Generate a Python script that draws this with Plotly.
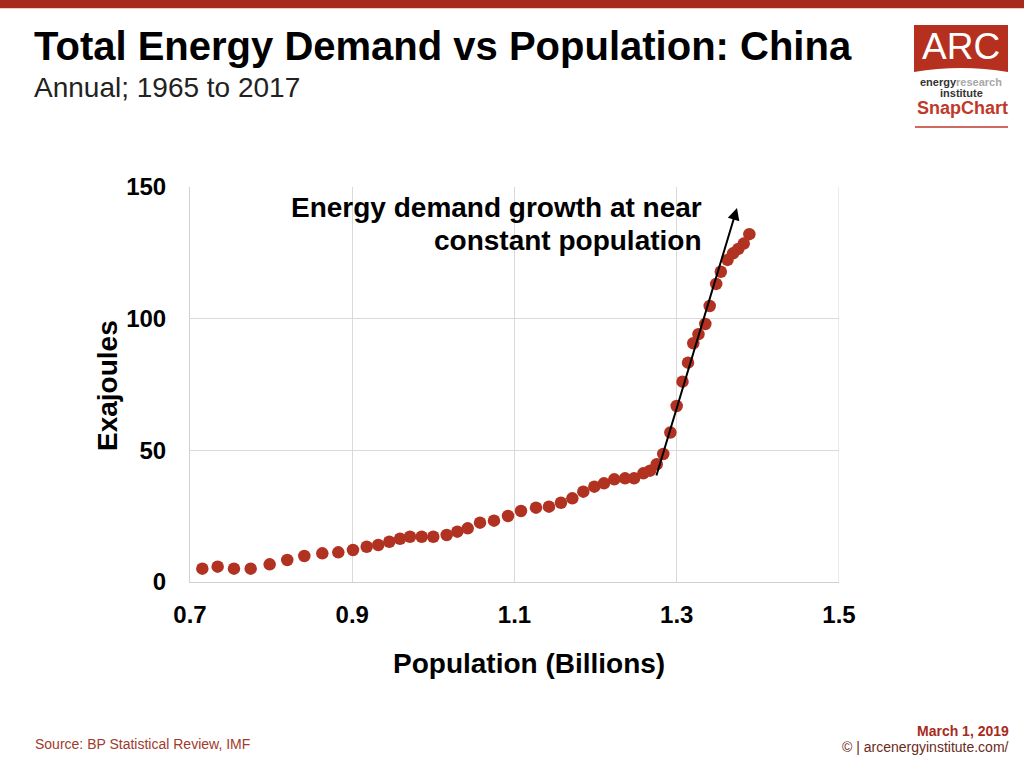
import plotly.graph_objects as go

population = [0.7152, 0.7341, 0.7542, 0.7748, 0.7982, 0.8199, 0.8409, 0.8631, 0.8828, 0.9009,
              0.9178, 0.9321, 0.9457, 0.9589, 0.9712, 0.9856, 0.9999, 1.0164, 1.0295, 1.0423,
              1.0575, 1.0747, 1.0920, 1.1080, 1.1265, 1.1425, 1.1573, 1.1713, 1.1848, 1.1984,
              1.2103, 1.2230, 1.2363, 1.2474, 1.2588, 1.2671, 1.2753, 1.2834, 1.2921, 1.2999,
              1.3071, 1.3139, 1.3204, 1.3268, 1.3352, 1.3406, 1.3486, 1.3543, 1.3626, 1.3694,
              1.3759, 1.3826, 1.3895]
exajoules = [5.05, 5.81, 5.05, 5.05, 6.72, 8.35, 9.87, 10.9, 11.28, 12.15,
             13.4, 14.05, 15.3, 16.44, 17.2, 17.2, 17.2, 17.85, 19.1, 20.39,
             22.52, 23.28, 25.06, 26.96, 28.22, 28.6, 30.11, 31.78, 34.29, 36.19,
             37.48, 39.0, 39.38, 39.38, 41.28, 42.27, 44.7, 48.61, 56.77, 66.84,
             76.07, 83.28, 90.65, 94.1, 97.97, 104.8, 113.2, 117.8, 122.3, 124.8,
             126.5, 128.5, 132.1]

x_ticks = [0.7, 0.9, 1.1, 1.3, 1.5]
x_tick_labels = ["0.7", "0.9", "1.1", "1.3", "1.5"]
y_ticks = [0, 50, 100, 150]
y_tick_labels = ["0", "50", "100", "150"]

arrow_start = (1.2744, 39.9)
arrow_end = (1.3743, 142.0)

RED = "#A62B1C"
DOT = "#B23222"
FONT = "Liberation Sans, Arial, sans-serif"

fig = go.Figure()
fig.add_trace(go.Scatter(
    x=population, y=exajoules, mode="markers",
    marker=dict(size=12.5, color=DOT, line=dict(width=0)),
    hoverinfo="x+y", showlegend=False,
))

fig.update_layout(
    width=1024, height=768,
    margin=dict(l=190, r=185, t=187, b=186, pad=0),
    paper_bgcolor="white", plot_bgcolor="white",
    font=dict(family=FONT, color="black"),
    xaxis=dict(range=[0.7, 1.5], tickvals=x_ticks, ticktext=x_tick_labels,
               showgrid=True, gridcolor="#D9D9D9", gridwidth=1,
               showline=True, linecolor="#D0D0D0", linewidth=1, mirror=False,
               zeroline=False, ticks="", ticklabelstandoff=11,
               tickfont=dict(size=24, family=FONT, color="black", weight="bold")),
    yaxis=dict(range=[0, 150], tickvals=y_ticks, ticktext=y_tick_labels,
               showgrid=True, gridcolor="#D9D9D9", gridwidth=1,
               showline=True, linecolor="#D0D0D0", linewidth=1,
               zeroline=False, ticks="", ticklabelstandoff=18,
               tickfont=dict(size=24, family=FONT, color="black", weight="bold")),
)

# right border gridline
fig.add_shape(type="line", xref="x", yref="paper", x0=1.5, x1=1.5, y0=0, y1=1,
              line=dict(color="#D9D9D9", width=1))

# Arrow annotation
fig.add_annotation(x=arrow_end[0], y=arrow_end[1], ax=arrow_start[0], ay=arrow_start[1],
                   xref="x", yref="y", axref="x", ayref="y", text="",
                   showarrow=True, arrowhead=2, arrowsize=1.2, arrowwidth=2, arrowcolor="black")

ann = []
def paper_x(px):
    return (px - 190) / (839 - 190)
def paper_y(py):
    return (582 - py) / (582 - 187)

ann.append(dict(x=paper_x(704), y=paper_y(208), xref="paper", yref="paper",
                text="<b>Energy demand growth at near</b>",
                showarrow=False, xanchor="right", yanchor="middle", align="right",
                font=dict(size=28, family=FONT, color="black")))
ann.append(dict(x=paper_x(704), y=paper_y(241), xref="paper", yref="paper",
                text="<b>constant population</b>",
                showarrow=False, xanchor="right", yanchor="middle", align="right",
                font=dict(size=28, family=FONT, color="black")))
# axis titles
ann.append(dict(x=paper_x(529), y=paper_y(663), xref="paper", yref="paper",
                text="<b>Population (Billions)</b>", showarrow=False,
                xanchor="center", yanchor="middle", font=dict(size=28, family=FONT)))
ann.append(dict(x=paper_x(107), y=paper_y(385), xref="paper", yref="paper",
                text="<b>Exajoules</b>", showarrow=False, textangle=-90,
                xanchor="center", yanchor="middle", font=dict(size=28, family=FONT)))
# titles
ann.append(dict(x=paper_x(32), y=paper_y(46), xref="paper", yref="paper",
                text="<b>Total Energy Demand vs Population: China</b>", showarrow=False,
                xanchor="left", yanchor="middle", font=dict(size=40, family=FONT, color="black")))
ann.append(dict(x=paper_x(32), y=paper_y(87), xref="paper", yref="paper",
                text="Annual; 1965 to 2017", showarrow=False,
                xanchor="left", yanchor="middle", font=dict(size=28, family=FONT, color="#222222")))
# footer
ann.append(dict(x=paper_x(33), y=paper_y(744), xref="paper", yref="paper",
                text="Source: BP Statistical Review, IMF", showarrow=False,
                xanchor="left", yanchor="middle", font=dict(size=14, family=FONT, color="#A23A2C")))
ann.append(dict(x=paper_x(1011), y=paper_y(731), xref="paper", yref="paper",
                text="<b>March 1, 2019</b>", showarrow=False,
                xanchor="right", yanchor="middle", font=dict(size=14, family=FONT, color="#A62B1C")))
ann.append(dict(x=paper_x(1011), y=paper_y(747), xref="paper", yref="paper",
                text="© | arcenergyinstitute.com/", showarrow=False,
                xanchor="right", yanchor="middle", font=dict(size=14, family=FONT, color="#6B2A20")))
# logo texts
ann.append(dict(x=paper_x(961), y=paper_y(46), xref="paper", yref="paper",
                text="ARC", showarrow=False, xanchor="center", yanchor="middle",
                font=dict(size=37, family=FONT, color="white")))
ann.append(dict(x=paper_x(961), y=paper_y(82), xref="paper", yref="paper",
                text="<b><span style='color:#333333'>energy</span><span style='color:#A8A8A8'>research</span></b>",
                showarrow=False, xanchor="center", yanchor="middle",
                font=dict(size=11, family=FONT)))
ann.append(dict(x=paper_x(961), y=paper_y(93), xref="paper", yref="paper",
                text="<b>institute</b>", showarrow=False, xanchor="center", yanchor="middle",
                font=dict(size=11, family=FONT, color="#333333")))
ann.append(dict(x=paper_x(962), y=paper_y(108), xref="paper", yref="paper",
                text="<b>SnapChart</b>", showarrow=False, xanchor="center", yanchor="middle",
                font=dict(size=18, family=FONT, color="#C0392B")))

for a in ann:
    fig.add_annotation(**a)

# shapes in paper coords
def shp(x0, y0, x1, y1, **kw):
    fig.add_shape(type="rect", xref="paper", yref="paper",
                  x0=paper_x(x0), x1=paper_x(x1), y0=paper_y(y1), y1=paper_y(y0), **kw)

shp(0, 0, 1024, 8, fillcolor=RED, line=dict(width=0), layer="above")
shp(0, 8, 1024, 9, fillcolor="#F4C9C3", line=dict(width=0), layer="above")
# logo red box with slight curved bottom
px0, px1 = 914, 1008
path = (f"M {paper_x(px0)},{paper_y(25)} L {paper_x(px1)},{paper_y(25)} "
        f"L {paper_x(px1)},{paper_y(72)} Q {paper_x(961)},{paper_y(64)} {paper_x(px0)},{paper_y(72)} Z")
fig.add_shape(type="path", xref="paper", yref="paper", path=path,
              fillcolor="#B5301F", line=dict(width=0), layer="below")
fig.add_shape(type="line", xref="paper", yref="paper",
              x0=paper_x(915), x1=paper_x(1008), y0=paper_y(127), y1=paper_y(127),
              line=dict(color="#C0392B", width=1.5))

fig.write_html("out.html")
